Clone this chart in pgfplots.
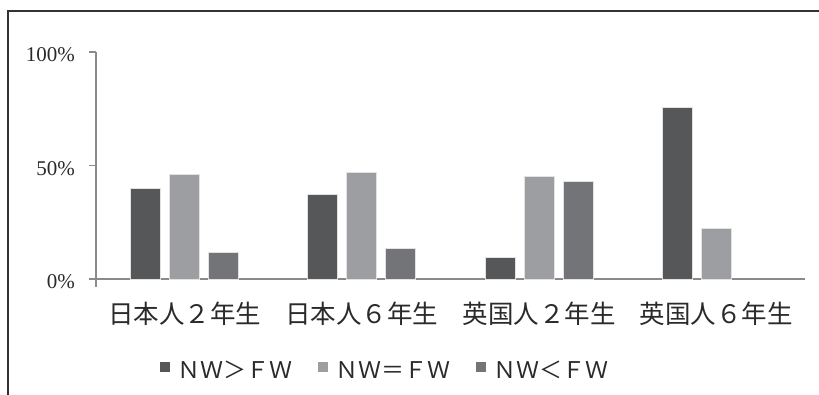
\documentclass[border=0pt]{standalone}
\usepackage{pgfplots}
\pgfplotsset{compat=1.18}
\usepackage{fontspec}
\setmainfont{Liberation Serif}
\newfontfamily\cjk{Noto Sans CJK JP}

\definecolor{barDark}{HTML}{555759}
\definecolor{barLight}{HTML}{9D9EA1}
\definecolor{barMid}{HTML}{737477}
\definecolor{axisC}{HTML}{8A8A8A}
\definecolor{textC}{HTML}{2A2A2A}
\definecolor{frameC}{HTML}{333333}
\definecolor{edgeC}{HTML}{E2E2E2}

\begin{document}
\begin{tikzpicture}[x=1pt,y=1pt]
\useasboundingbox (0,0) rectangle (819,395);
% outer frame
\draw[line width=1.8pt, color=frameC] (8,-5) -- (8,384) -- (830,384);
\begin{axis}[
  at={(96pt,116pt)}, anchor=south west,
  scale only axis, width=709pt, height=227pt,
  xmin=-0.5, xmax=3.5, ymin=0, ymax=100,
  axis x line=bottom, axis y line=left,
  axis line style={-, line width=1.4pt, color=axisC},
  xtick={0,1,2,3},
  xticklabels={日本人２年生,日本人６年生,英国人２年生,英国人６年生},
  x tick style={draw=none},
  xticklabel style={font=\cjk\fontsize{25.5}{25.5}\selectfont, text=textC,
    anchor=center, inner sep=0pt, yshift=-28pt},
  ytick={0,50,100},
  yticklabels={0\%,50\%,100\%},
  y tick style={line width=1.4pt, color=axisC},
  major tick length=7pt, tick align=outside,
  yticklabel style={font=\fontsize{21}{21}\selectfont, text=textC,
    anchor=east, inner sep=0pt, xshift=-14pt, yshift=-3pt},
  ybar, bar width=30pt,
  every axis plot/.append style={draw=edgeC, line width=0.8pt},
  legend style={draw=none, fill=none, at={(0.0860,-0.405)}, anchor=west,
    font=\cjk\fontsize{23}{23}\selectfont, text=textC,
    nodes={inner sep=0pt},
    /tikz/every odd column/.append style={column sep=7pt},
    /tikz/every even column/.append style={column sep=26pt}},
  legend columns=3,
  legend image code/.code={\fill[#1, draw=none] (0pt,-1pt) rectangle (10pt,9pt);},
  clip=false,
]
\addplot[fill=barDark, bar shift=-39pt] coordinates {(0,40) (1,37.3) (2,9.6) (3,75.5)};
\addplot[fill=barLight, bar shift=0pt] coordinates {(0,46) (1,46.8) (2,45) (3,22.3)};
\addplot[fill=barMid, bar shift=39pt] coordinates {(0,11.5) (1,13.5) (2,43)};
\legend{ＮＷ＞ＦＷ,ＮＷ＝ＦＷ,ＮＷ＜ＦＷ}
% small tick below the corner
\draw[axisC, line width=1.4pt] (axis cs:-0.5,0) -- ([yshift=-8pt]axis cs:-0.5,0);
\end{axis}
\end{tikzpicture}
\end{document}
